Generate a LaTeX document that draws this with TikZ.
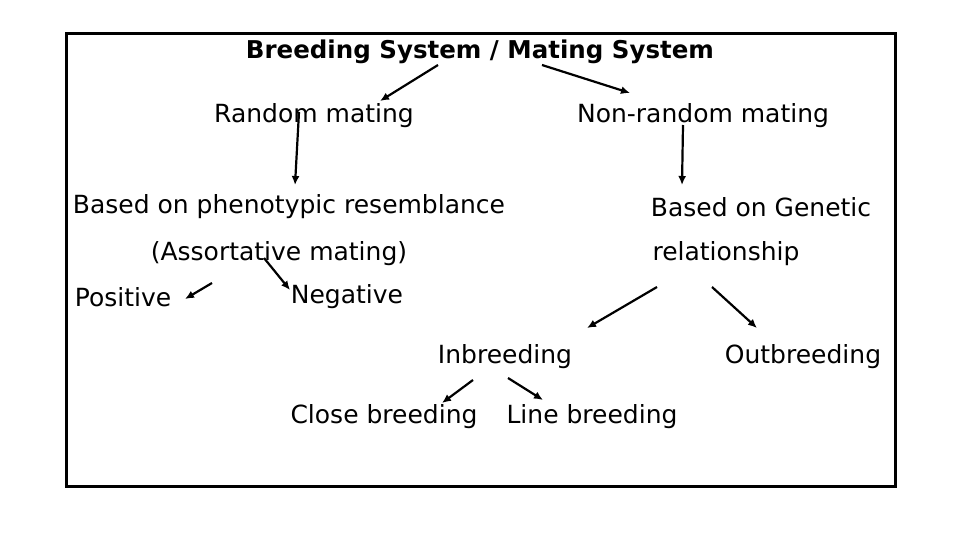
\documentclass[tikz,border=0pt]{standalone}
\usepackage{fontspec}
\setmainfont{DejaVu Sans}
\usetikzlibrary{arrows.meta}
\begin{document}
\begin{tikzpicture}[x=1pt,y=-1pt,
  lbl/.style={inner sep=0pt,font=\fontsize{25}{30}\selectfont},
  arr/.style={-{Latex[length=9pt,width=8pt]},line width=2.2pt}]
\useasboundingbox (0,0) rectangle (960,540);
\draw[line width=3pt] (66,34) rectangle (895,486);
\node[lbl,font=\bfseries\fontsize{24.5}{30}\selectfont] (t) at (480,52) {Breeding System / Mating System};
\node[lbl] (rm) at (314,116) {Random mating};
\node[lbl] (nrm) at (703,116) {Non-random mating};
\node[lbl] (ph) at (289,207) {Based on phenotypic resemblance};
\node[lbl] (ge) at (761,207) {Based on Genetic};
\node[lbl] (as) at (279,254) {(Assortative mating)};
\node[lbl] (re) at (726,254) {relationship};
\node[lbl] (po) at (123,297) {Positive};
\node[lbl] (ne) at (347,297) {Negative};
\node[lbl] (in) at (505,357) {Inbreeding};
\node[lbl] (ou) at (803,357) {Outbreeding};
\node[lbl] (cb) at (384,417) {Close breeding};
\node[lbl] (lb) at (592,417) {Line breeding};
\coordinate (a1) at (438,65); \coordinate (a2) at (380,101);
\coordinate (b1) at (542,65); \coordinate (b2) at (630,93);
\coordinate (c1) at (299,112); \coordinate (c2) at (295,185);
\coordinate (d1) at (683,125); \coordinate (d2) at (682,185);
\coordinate (e1) at (212,283); \coordinate (e2) at (185,299);
\coordinate (f1) at (264,258); \coordinate (f2) at (290,290);
\coordinate (g1) at (657,287); \coordinate (g2) at (587,328);
\coordinate (h1) at (712,287); \coordinate (h2) at (757,328);
\coordinate (i1) at (473,380); \coordinate (i2) at (442,403);
\coordinate (j1) at (508,378); \coordinate (j2) at (543,400);
\foreach \p in {a,b,c,d,e,f,g,h,i,j} \draw[arr] (\p1) -- (\p2);
\end{tikzpicture}
\end{document}
